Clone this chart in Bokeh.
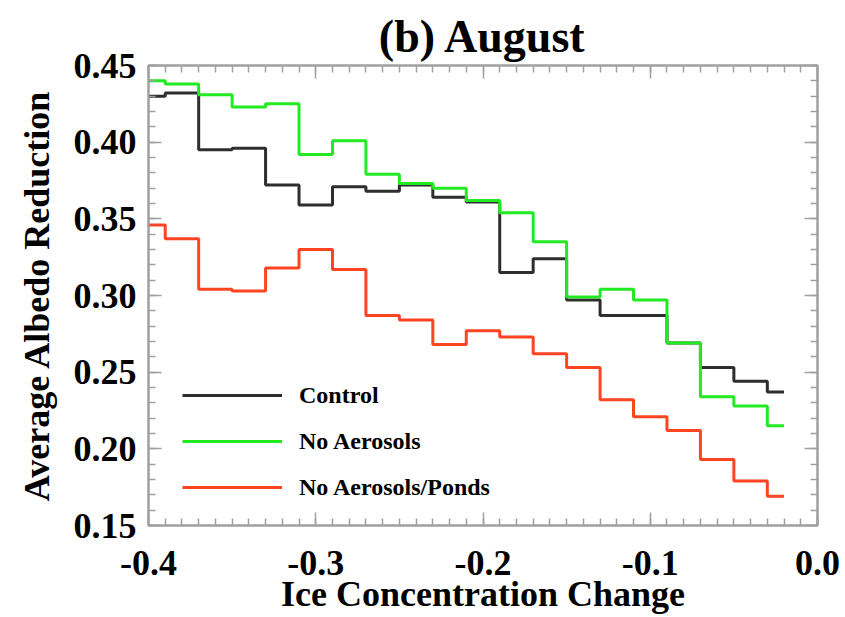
from bokeh.plotting import figure
from bokeh.models import (FixedTicker, LinearAxis, Legend, LegendItem, Range1d,
                          CustomLabelingPolicy)
from bokeh.embed import file_html
from bokeh.resources import INLINE

# Bin centres of ice concentration change
ice_change = [-0.40, -0.38, -0.36, -0.34, -0.32, -0.30, -0.28, -0.26, -0.24, -0.22,
              -0.20, -0.18, -0.16, -0.14, -0.12, -0.10, -0.08, -0.06, -0.04, -0.02]

# Average albedo reduction per experiment
control = [0.430, 0.432, 0.395, 0.396, 0.372, 0.359, 0.371, 0.368, 0.372, 0.364,
           0.361, 0.315, 0.324, 0.297, 0.287, 0.287, 0.269, 0.253, 0.244, 0.237]
no_aerosols = [0.440, 0.438, 0.431, 0.423, 0.425, 0.392, 0.401, 0.379, 0.373, 0.370,
               0.362, 0.354, 0.335, 0.299, 0.304, 0.297, 0.269, 0.234, 0.228, 0.215]
no_aerosols_ponds = [0.346, 0.337, 0.304, 0.303, 0.318, 0.330, 0.317, 0.287, 0.284, 0.268,
                     0.277, 0.273, 0.262, 0.253, 0.232, 0.221, 0.212, 0.193, 0.179, 0.169]

series_names = ["Control", "No Aerosols", "No Aerosols/Ponds"]
series_colors = ["#2e2e2e", "#22ea22", "#ff4422"]

x_ticks = [-0.4, -0.3, -0.2, -0.1, 0.0]
x_tick_labels = ["-0.4", "-0.3", "-0.2", "-0.1", "0.0"]
y_ticks = [0.15, 0.20, 0.25, 0.30, 0.35, 0.40, 0.45]
y_tick_labels = ["0.15", "0.20", "0.25", "0.30", "0.35", "0.40", "0.45"]

FONT = "Liberation Serif"
AXIS_GRAY = "#a0a0a0"

p = figure(width=845, height=617, output_backend="svg", toolbar_location=None,
           x_range=Range1d(-0.4, 0.0), y_range=Range1d(0.15, 0.45),
           min_border_left=148, min_border_right=28, min_border_top=65,
           min_border_bottom=92, x_axis_location=None, y_axis_location=None)
p.grid.visible = False
p.outline_line_color = AXIS_GRAY
p.outline_line_width = 2
p.background_fill_color = "white"
p.border_fill_color = "white"

# mirror axes carry ticks only
hide_all = CustomLabelingPolicy(code="""
    const n = indices.size;
    for (let i = 0; i < n; i++) indices.unset(i);
    return indices;
""")


def style_axis(ax, ticks, minor):
    ax.ticker = FixedTicker(ticks=ticks, minor_ticks=minor)
    ax.axis_line_color = AXIS_GRAY
    ax.axis_line_width = 2
    ax.major_tick_line_color = AXIS_GRAY
    ax.minor_tick_line_color = AXIS_GRAY
    ax.major_tick_line_width = 1.5
    ax.minor_tick_line_width = 1.5
    ax.major_tick_in = 13
    ax.major_tick_out = 0
    ax.minor_tick_in = 7
    ax.minor_tick_out = 0
    ax.major_label_text_font = FONT
    ax.major_label_text_font_style = "bold"
    ax.major_label_text_font_size = "36px"
    ax.major_label_text_color = "black"
    ax.axis_label_text_font = FONT
    ax.axis_label_text_font_style = "bold"
    ax.axis_label_text_font_size = "36px"
    ax.axis_label_text_color = "black"


x_minor = [round(-0.4 + 0.01 * i, 2) for i in range(41)]
y_minor = [round(0.15 + 0.01 * i, 2) for i in range(31)]

xb = LinearAxis(axis_label="Ice Concentration Change")
style_axis(xb, x_ticks, x_minor)
xb.major_label_overrides = dict(zip(x_ticks, x_tick_labels))
xb.major_label_standoff = 25
xb.axis_label_standoff = -4
xb.axis_label_text_line_height = 0.6
p.add_layout(xb, "below")

yl = LinearAxis(axis_label="Average Albedo Reduction")
style_axis(yl, y_ticks, y_minor)
yl.major_label_overrides = dict(zip(y_ticks, y_tick_labels))
yl.major_label_standoff = 12
yl.axis_label_standoff = 14
p.add_layout(yl, "left")

for loc, ticks, minor in (("above", x_ticks, x_minor), ("right", y_ticks, y_minor)):
    ax = LinearAxis(major_label_policy=hide_all)
    style_axis(ax, ticks, minor)
    ax.major_label_text_font_size = "0px"
    ax.major_label_standoff = 0
    p.add_layout(ax, loc)

p.title.text = "(b) August"
p.title.align = "center"
p.title.text_font = FONT
p.title.text_font_style = "bold"
p.title.text_font_size = "46px"
p.title.text_color = "black"
p.title.standoff = 8

renderers = []
for ys, name, col in zip([control, no_aerosols, no_aerosols_ponds], series_names, series_colors):
    r = p.step(ice_change, ys, mode="center", line_color=col, line_width=3)
    renderers.append((name, r))

legend = Legend(items=[LegendItem(label=n, renderers=[r]) for n, r in renderers],
                location=(34, 24), orientation="vertical",
                glyph_width=100, glyph_height=28, label_height=28,
                label_standoff=17, spacing=18, padding=0, margin=0,
                border_line_alpha=0, background_fill_alpha=0,
                label_text_font=FONT, label_text_font_style="bold",
                label_text_font_size="24px", label_text_color="black")
p.add_layout(legend, "center")

open("out.html", "w").write(file_html(p, INLINE))
